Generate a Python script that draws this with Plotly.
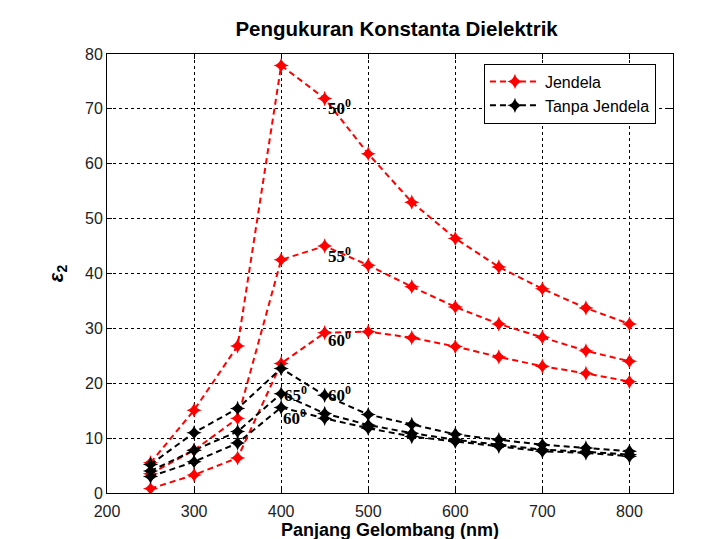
import plotly.graph_objects as go

wavelength = [250, 300, 350, 400, 450, 500, 550, 600, 650, 700, 750, 800]

jendela_50 = [5.5, 15.1, 26.8, 77.9, 71.9, 61.8, 53.0, 46.4, 41.2, 37.2, 33.7, 30.8]
jendela_55 = [3.5, 7.8, 13.6, 42.5, 45.0, 41.5, 37.6, 33.9, 30.8, 28.4, 25.9, 24.0]
jendela_60 = [0.8, 3.3, 6.4, 23.6, 29.2, 29.4, 28.3, 26.7, 24.8, 23.1, 21.8, 20.3]

tanpa_a = [5.2, 11.0, 15.4, 22.7, 17.8, 14.3, 12.5, 10.7, 9.7, 8.8, 8.2, 7.6]
tanpa_b = [4.0, 7.8, 11.2, 18.1, 14.5, 12.4, 10.9, 9.7, 8.8, 7.9, 7.5, 7.0]
tanpa_c = [3.0, 5.7, 9.1, 15.6, 13.6, 11.8, 10.3, 9.4, 8.5, 7.6, 7.3, 6.7]

x_ticks = [200, 300, 400, 500, 600, 700, 800]
y_ticks = [0, 10, 20, 30, 40, 50, 60, 70, 80]

# angle labels: (text, x, y)
angle_labels = [
    ("50", 451, 70.3),
    ("55", 451, 43.4),
    ("60", 451, 28.0),
    ("65", 401, 18.0),
    ("60", 400, 13.9),
    ("60", 452, 18.1),
]

fig = go.Figure()

red_series = [jendela_50, jendela_55, jendela_60]
black_series = [tanpa_a, tanpa_b, tanpa_c]

for i, ys in enumerate(red_series):
    fig.add_trace(go.Scatter(
        x=wavelength, y=ys, mode="lines+markers",
        name="Jendela", legendgroup="j", showlegend=(i == 0),
        line=dict(color="red", width=2, dash="6px,4px"),
        marker=dict(symbol="star-diamond", size=11, color="red"),
    ))
for i, ys in enumerate(black_series):
    fig.add_trace(go.Scatter(
        x=wavelength, y=ys, mode="lines+markers",
        name="Tanpa Jendela", legendgroup="t", showlegend=(i == 0),
        line=dict(color="black", width=2, dash="6px,4px"),
        marker=dict(symbol="star-diamond", size=11, color="black"),
    ))

for txt, lx, ly in angle_labels:
    fig.add_annotation(
        x=lx, y=ly, xref="x", yref="y", text=f"<b>{txt}<sup>0</sup></b>",
        showarrow=False, xanchor="left", yanchor="middle",
        font=dict(family="Liberation Serif", size=17, color="black"),
    )

axis_common = dict(
    showgrid=True, gridcolor="black", griddash="dot", gridwidth=1,
    showline=True, linecolor="black", linewidth=1, mirror="ticks",
    ticks="inside", ticklen=5, tickcolor="black", zeroline=False,
    tickfont=dict(family="Liberation Sans", size=16, color="#222"),
)

fig.update_xaxes(range=[200, 850], tickvals=x_ticks, ticklabelstandoff=4, **axis_common,
                 title=dict(text="<b>Panjang Gelombang (nm)</b>", standoff=2,
                            font=dict(family="Liberation Sans", size=18, color="black")))
fig.update_yaxes(range=[0, 80], tickvals=y_ticks, **axis_common,
                 title=dict(text="<b><i>ε</i><sub>2</sub></b>", standoff=16,
                            font=dict(family="Liberation Sans", size=20, color="black")))

fig.update_layout(
    width=725, height=539,
    margin=dict(l=99, r=60, t=46, b=47),
    paper_bgcolor="white", plot_bgcolor="white",
    title=dict(text="<b>Pengukuran Konstanta Dielektrik</b>", x=0.536, xanchor="center",
               y=0.961, yanchor="middle",
               font=dict(family="Liberation Sans", size=20.5, color="black")),
    legend=dict(x=0.666, y=0.978, xanchor="left", yanchor="top",
                bgcolor="white", bordercolor="black", borderwidth=1,
                font=dict(family="Liberation Sans", size=16, color="black"),
                itemwidth=50, tracegroupgap=0),
    showlegend=True,
)

fig.write_html("out.html")
